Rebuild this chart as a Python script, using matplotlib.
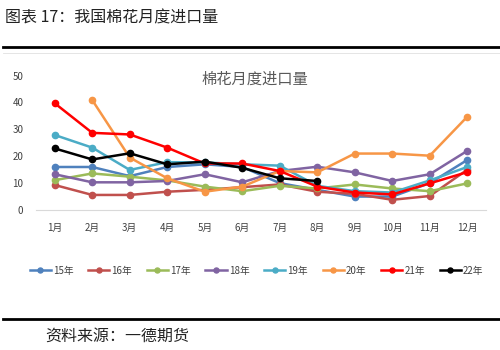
import matplotlib.pyplot as plt

plt.rcParams['font.family'] = ['Noto Sans CJK SC', 'DejaVu Sans']

months = ['1月', '2月', '3月', '4月', '5月', '6月', '7月', '8月', '9月', '10月', '11月', '12月']
y15 = [16, 16, 12.6, 16, 17, 16, 10, 7.5, 5, 5, 10, 18.6]
y16 = [9.3, 5.6, 5.6, 6.8, 7.5, 8.5, 9.5, 6.8, 6, 3.8, 5.2, 15]
y17 = [11.1, 13.6, 12.4, 11, 8.7, 7, 9, 8, 9.5, 8, 7, 9.9]
y18 = [13.3, 10.3, 10.3, 10.8, 13.3, 10.3, 14.5, 16.1, 14, 10.8, 13.3, 22]
y19 = [27.9, 23.2, 14.9, 17.8, 17.7, 17, 16.5, 9, 7, 6.5, 11, 16]
y20 = [None, 40.9, 19.5, 11.8, 6.8, 8.7, 14.5, 14, 21, 21, 20.2, 34.7]
y21 = [39.7, 28.7, 28.1, 23.2, 17.3, 17.3, 14.5, 8.7, 6.5, 5.8, 9.9, 14.1]
y22 = [22.9, 18.8, 21.1, 17, 18, 15.7, 11.8, 10.8]

series = [
    ('15年', y15, '#4F81BD'),
    ('16年', y16, '#C0504D'),
    ('17年', y17, '#9BBB59'),
    ('18年', y18, '#8064A2'),
    ('19年', y19, '#4BACC6'),
    ('20年', y20, '#F79646'),
    ('21年', y21, '#FF0000'),
    ('22年', y22, '#000000'),
]

fig = plt.figure(figsize=(5, 3.5), dpi=100)
ax = fig.add_axes([0.072, 0.4, 0.9, 0.384])

x = list(range(len(months)))
for name, vals, color in series:
    xs = [i for i, v in zip(x, vals) if v is not None]
    ys = [v for v in vals if v is not None]
    ax.plot(xs, ys, color=color, linewidth=1.8, marker='o', markersize=4.5,
            label=name, clip_on=False)

ax.set_xlim(-0.5, 11.5)
ax.set_ylim(0, 50)
ax.set_yticks([0, 10, 20, 30, 40, 50])
ax.set_xticks(x)
ax.set_xticklabels(months)
ax.tick_params(axis='both', length=0, labelsize=7, labelcolor='#404040')
ax.tick_params(axis='x', pad=9)
ax.tick_params(axis='y', pad=9)
for s in ['top', 'right', 'left']:
    ax.spines[s].set_visible(False)
ax.spines['bottom'].set_color('#D9D9D9')

leg = ax.legend(loc='upper center', bbox_to_anchor=(0.49, -0.35), ncol=8,
                frameon=False, fontsize=7, handlelength=2.2, handletextpad=0.2,
                columnspacing=1.5, markerscale=0.8)
for t in leg.get_texts():
    t.set_color('#404040')

fig.text(0.51, 0.775, '棉花月度进口量', ha='center', va='center',
         fontsize=11, color='#595959')

# page header and footer
fig.text(0.01, 0.95, '图表 17：我国棉花月度进口量', ha='left', va='center',
         fontsize=11.5, color='#222222')
fig.add_artist(plt.Line2D([0.006, 1.0], [0.866, 0.866], color='black', linewidth=2))
fig.add_artist(plt.Line2D([0.006, 1.0], [0.85, 0.85], color='#E0E0E0', linewidth=0.6))
fig.add_artist(plt.Line2D([0.006, 1.0], [0.09, 0.09], color='black', linewidth=2))
fig.text(0.09, 0.04, '资料来源：一德期货', ha='left', va='center',
         fontsize=11.5, color='#222222')

fig.savefig('out.png', dpi=100)
